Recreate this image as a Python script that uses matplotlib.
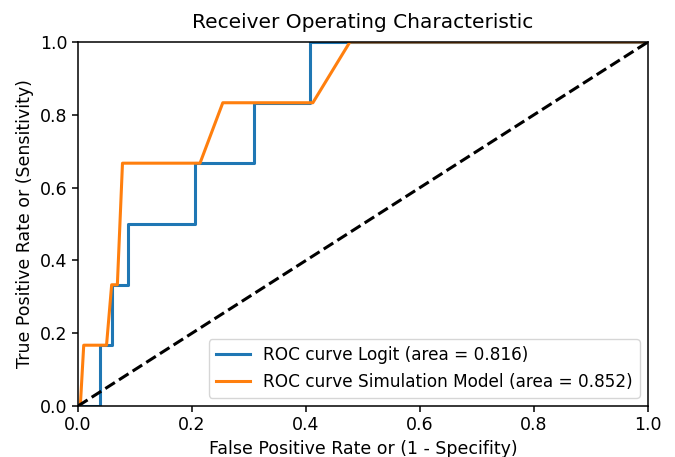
import matplotlib
matplotlib.use("Agg")
import matplotlib.pyplot as plt

# ROC points
fpr_logit = [0.0, 0.039, 0.039, 0.059, 0.059, 0.088, 0.088, 0.206, 0.206, 0.308, 0.308, 0.407, 0.407, 1.0]
tpr_logit = [0.0, 0.0, 0.167, 0.167, 0.333, 0.333, 0.5, 0.5, 0.667, 0.667, 0.833, 0.833, 1.0, 1.0]
auc_logit = 0.816

fpr_sim = [0.0, 0.004, 0.010, 0.050, 0.059, 0.069, 0.078, 0.214, 0.254, 0.412, 0.477, 1.0]
tpr_sim = [0.0, 0.0, 0.167, 0.167, 0.333, 0.333, 0.667, 0.667, 0.833, 0.833, 1.0, 1.0]
auc_sim = 0.852

fig = plt.figure(figsize=(6.75, 4.57), dpi=100)
ax = fig.add_axes([0.1156, 0.1116, 0.8444, 0.7966])

ax.plot(fpr_logit, tpr_logit, color='#1f77b4', lw=2.2, label='ROC curve Logit (area = %0.3f)' % auc_logit)
ax.plot(fpr_sim, tpr_sim, color='#ff7f0e', lw=2.2, label='ROC curve Simulation Model (area = %0.3f)' % auc_sim)
ax.plot([0, 1], [0, 1], 'k--', lw=2.2)

ax.set_xlim(0.0, 1.0)
ax.set_ylim(0.0, 1.0)
ax.set_xlabel('False Positive Rate or (1 - Specifity)', fontsize=12.5)
ax.set_ylabel('True Positive Rate or (Sensitivity)', fontsize=12.5)
ax.set_title('Receiver Operating Characteristic', fontsize=14.5, pad=10)
ax.tick_params(labelsize=12.5, width=1.1, length=4)
for s in ax.spines.values():
    s.set_linewidth(1.1)
ax.legend(loc='lower right', fontsize=12.2)

fig.savefig('out.png')
